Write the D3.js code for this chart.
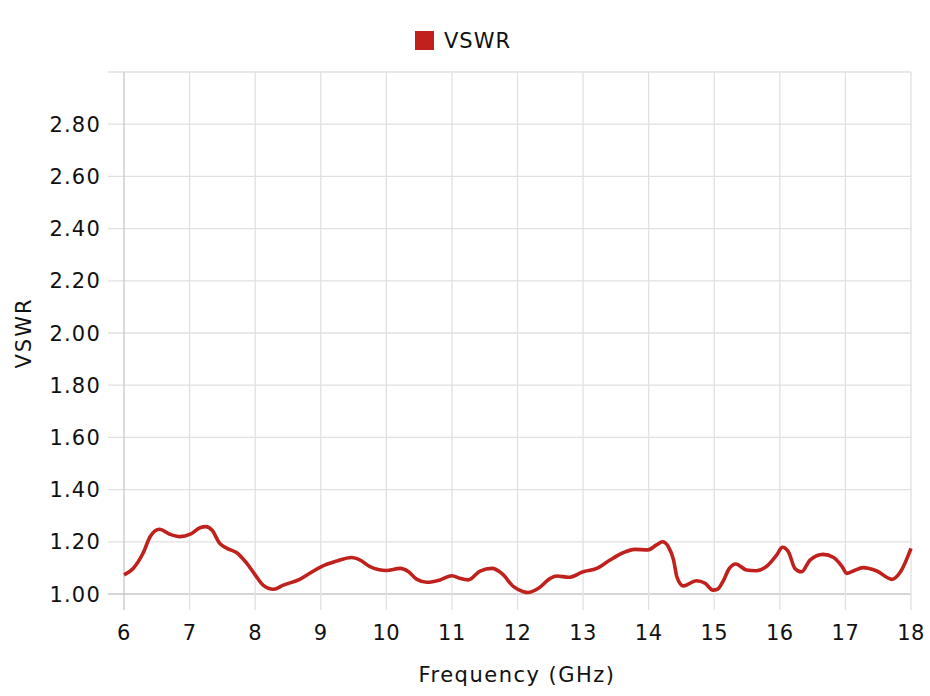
<!DOCTYPE html>
<html><head><meta charset="utf-8">
<script src="https://cdn.jsdelivr.net/npm/d3@7"></script>
<style>body{margin:0;background:#fff}svg{display:block}text{font-family:"DejaVu Sans",sans-serif;fill:#111}</style>
</head><body>
<script>
const seriesName = "VSWR";
const freq = [6.00,6.14,6.29,6.40,6.54,6.70,6.85,7.01,7.16,7.25,7.34,7.46,7.57,7.72,7.87,8.00,8.12,8.28,8.43,8.68,8.87,9.01,9.24,9.47,9.60,9.75,10.00,10.21,10.34,10.46,10.62,10.82,11.00,11.12,11.25,11.43,11.61,11.76,11.94,12.09,12.16,12.32,12.50,12.60,12.78,13.00,13.21,13.41,13.61,13.79,13.99,14.12,14.21,14.30,14.38,14.43,14.53,14.73,14.86,14.98,15.05,15.13,15.23,15.33,15.49,15.64,15.82,15.95,16.04,16.13,16.23,16.33,16.46,16.66,16.82,16.95,17.02,17.12,17.27,17.48,17.71,17.84,18.00];
const vswr = [1.073,1.098,1.156,1.220,1.248,1.229,1.220,1.229,1.254,1.258,1.245,1.194,1.175,1.158,1.118,1.073,1.034,1.018,1.034,1.056,1.085,1.105,1.126,1.140,1.130,1.105,1.090,1.098,1.085,1.057,1.045,1.054,1.070,1.060,1.054,1.088,1.098,1.079,1.028,1.009,1.006,1.022,1.060,1.069,1.064,1.085,1.098,1.130,1.158,1.171,1.169,1.188,1.200,1.181,1.130,1.066,1.031,1.051,1.041,1.015,1.018,1.047,1.098,1.115,1.092,1.089,1.111,1.149,1.179,1.162,1.098,1.085,1.130,1.152,1.140,1.105,1.079,1.088,1.101,1.088,1.056,1.085,1.175];
const xTicks = [6,7,8,9,10,11,12,13,14,15,16,17,18];
const yTicks = [1.0,1.2,1.4,1.6,1.8,2.0,2.2,2.4,2.6,2.8,3.0];

const W=930,H=696, L=124,R=911,T=72,B=594;
const color="#c0211c";
const svg=d3.select("body").append("svg").attr("width",W).attr("height",H);
const x=d3.scaleLinear().domain([6,18]).range([L,R]);
const y=d3.scaleLinear().domain([1,3]).range([B,T]);

// grid
const g=svg.append("g");
g.selectAll("line.h").data(yTicks).join("line")
  .attr("x1",L-16).attr("x2",R).attr("y1",d=>y(d)).attr("y2",d=>y(d))
  .attr("stroke",d=>d===1?"#c8c8c8":"#e1e1e1").attr("stroke-width",1.3);
g.selectAll("line.v").data(xTicks).join("line")
  .attr("x1",d=>x(d)).attr("x2",d=>x(d)).attr("y1",T).attr("y2",B+16)
  .attr("stroke",d=>d===6?"#c8c8c8":"#e1e1e1").attr("stroke-width",1.3);

// tick labels
svg.selectAll("text.yl").data(yTicks.filter(d=>d<3)).join("text")
  .attr("x",101).attr("y",d=>y(d)).attr("dy","0.36em").attr("text-anchor","end")
  .style("font-size","21px").style("letter-spacing","1.2px").text(d=>d.toFixed(2));
svg.selectAll("text.xl").data(xTicks).join("text")
  .attr("x",d=>x(d)).attr("y",640).attr("text-anchor","middle")
  .style("font-size","21px").style("letter-spacing","0.5px").text(d=>d);

// titles
svg.append("text").attr("x",517).attr("y",682).attr("text-anchor","middle")
  .style("font-size","21px").style("letter-spacing","1.5px").text("Frequency (GHz)");
svg.append("text").attr("transform","translate(31,333) rotate(-90)").attr("text-anchor","middle")
  .style("font-size","21px").style("letter-spacing","2px").text("VSWR");

// legend
svg.append("rect").attr("x",415).attr("y",31).attr("width",19).attr("height",19).attr("fill",color);
svg.append("text").attr("x",444).attr("y",48).style("font-size","21px").style("letter-spacing","1px").text(seriesName);

// line
const data=freq.map((f,i)=>[f,vswr[i]]);
svg.append("path").datum(data)
  .attr("fill","none").attr("stroke",color).attr("stroke-width",3.6).attr("stroke-linejoin","round")
  .attr("d",d3.line().x(d=>x(d[0])).y(d=>y(d[1])).curve(d3.curveMonotoneX));
</script>
</body></html>
